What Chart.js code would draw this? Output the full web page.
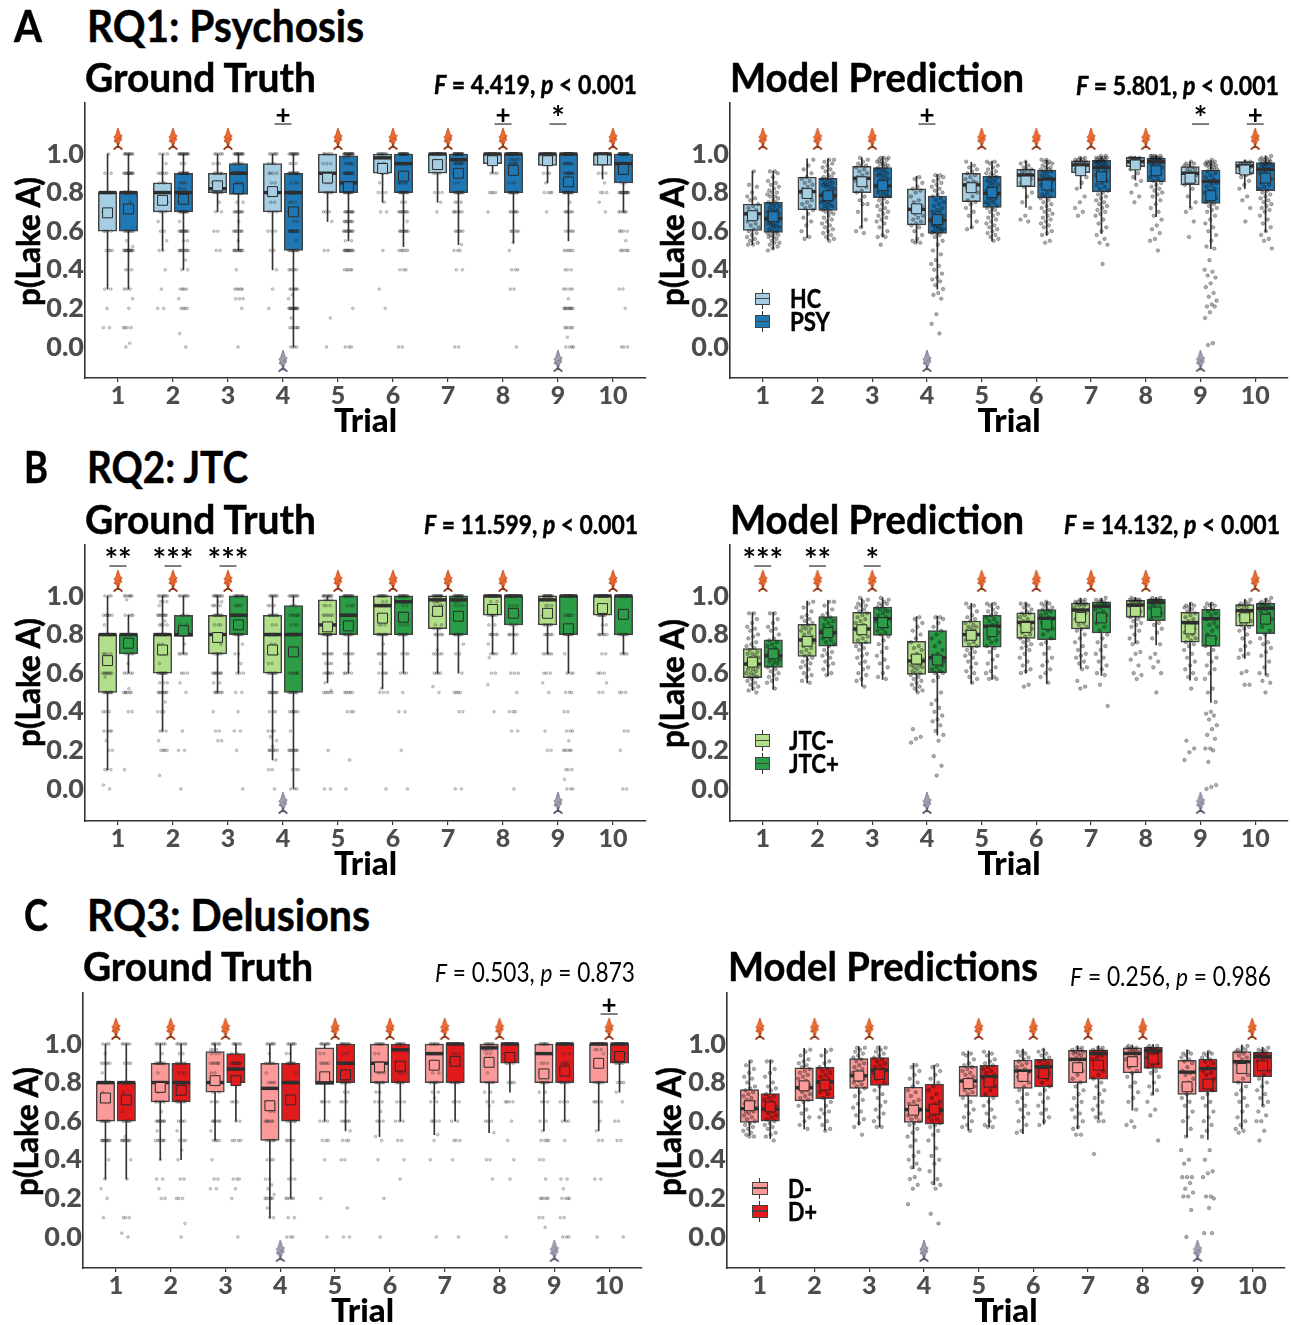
<!DOCTYPE html>
<html><head><meta charset="utf-8">
<script src="https://cdn.jsdelivr.net/npm/chart.js@4"></script>
<style>
html,body{margin:0;padding:0;background:#fff;width:1292px;height:1325px;overflow:hidden;position:relative;font-family:Lato,sans-serif}
canvas{position:absolute}
.t{position:absolute;white-space:nowrap;color:#000;font-weight:700;transform-origin:left center;line-height:1}
.g{position:absolute;box-sizing:border-box}
</style></head><body>
<script>
const trials=[1,2,3,4,5,6,7,8,9,10];
const yTicks=[0,0.2,0.4,0.6,0.8,1.0];
const fishUp=[1,2,3,5,6,7,8,10];
const fishDown=[4,9];
// rows per trial: q1, median, q3, whisker low, whisker high, mean
const gtA_hc=[[.6,.8,.8,.3,1,.695],[.7,.8,.85,.5,1,.76],[.8,.82,.9,.7,1,.835],[.7,.8,.95,.4,1,.805],[.8,.9,1,.65,1,.875],[.9,.98,1,.75,1,.925],[.9,1,1,.75,1,.945],[.95,1,1,.9,1,.965],[.94,1,1,.85,1,.965],[.94,1,1,.87,1,.97]];
const gtA_psy=[[.6,.8,.8,.3,1,.715],[.7,.8,.9,.4,1,.765],[.79,.9,.95,.5,1,.82],[.5,.8,.9,0,1,.7],[.8,.85,.99,.55,1,.83],[.8,.95,1,.52,1,.885],[.8,.97,1,.53,1,.9],[.8,1,1,.54,1,.915],[.8,1,1,.55,1,.855],[.85,.95,1,.7,1,.92]];
const mA_hc=[[.604,.69,.74,.53,.91,.68],[.71,.805,.88,.567,.975,.795],[.8,.874,.936,.62,.98,.856],[.633,.713,.82,.54,.885,.716],[.753,.84,.9,.614,.957,.825],[.83,.891,.92,.723,.963,.86],[.903,.943,.965,.82,.983,.913],[.934,.96,.983,.865,.986,.943],[.84,.9,.934,.723,.96,.874],[.896,.938,.96,.82,.969,.917]];
const mA_psy=[[.593,.666,.75,.507,.91,.675],[.707,.784,.874,.553,.975,.784],[.773,.834,.93,.57,.985,.836],[.588,.657,.782,.3,.894,.66],[.723,.796,.884,.55,.963,.8],[.772,.868,.917,.578,.969,.839],[.804,.93,.967,.588,.986,.882],[.856,.96,.979,.675,.993,.913],[.744,.858,.917,.51,.965,.784],[.81,.92,.955,.597,.99,.875]];
const gtB_low=[[.5,.8,.8,.1,1,.665],[.6,.8,.8,.3,1,.72],[.7,.8,.9,.5,1,.785],[.6,.8,.9,.15,1,.72],[.8,.85,.98,.55,1,.84],[.8,.95,1,.52,1,.885],[.83,.98,1,.6,1,.92],[.9,1,1,.7,1,.93],[.85,.98,1,.7,1,.91],[.9,1,1,.8,1,.935]];
const gtB_high=[[.7,.8,.8,.6,.9,.755],[.79,.8,.9,.7,1,.82],[.8,.9,1,.6,1,.85],[.5,.8,.95,0,1,.71],[.8,.9,1,.6,1,.845],[.8,.97,1,.6,1,.89],[.8,.98,1,.6,1,.895],[.85,1,1,.7,1,.91],[.8,1,1,.6,1,.83],[.8,1,1,.7,1,.905]];
const mB_low=[[.576,.647,.727,.512,.913,.657],[.687,.772,.853,.55,.974,.765],[.754,.829,.915,.533,.986,.825],[.593,.663,.765,.503,.893,.673],[.735,.8,.87,.547,.962,.796],[.78,.863,.913,.6,.965,.837],[.829,.927,.963,.625,.988,.889],[.889,.953,.977,.754,.993,.92],[.76,.862,.915,.564,.965,.829],[.843,.924,.955,.676,.983,.887]];
const mB_high=[[.63,.69,.773,.517,.915,.7],[.74,.81,.893,.586,.976,.81],[.796,.882,.943,.567,.99,.862],[.602,.68,.82,.279,.896,.668],[.735,.843,.9,.567,.965,.815],[.773,.884,.93,.547,.97,.853],[.808,.946,.969,.588,.988,.886],[.872,.967,.983,.746,.993,.917],[.739,.882,.931,.448,.965,.768],[.804,.936,.962,.59,.988,.88]];
const gtC_low=[[.6,.8,.8,.3,1,.72],[.7,.8,.9,.4,1,.775],[.75,.8,.96,.5,1,.81],[.5,.77,.9,.1,1,.68],[.79,.8,.98,.6,1,.83],[.8,.9,1,.52,1,.88],[.8,.95,1,.53,1,.89],[.8,.98,1,.54,1,.905],[.8,.95,1,.55,1,.845],[.8,1,1,.55,1,.9]];
const gtC_high=[[.6,.8,.8,.3,1,.71],[.7,.8,.9,.4,1,.76],[.8,.87,.95,.6,1,.81],[.6,.8,.9,.2,1,.71],[.8,.9,1,.55,1,.84],[.8,.97,1,.6,1,.885],[.8,1,1,.6,1,.91],[.9,1,1,.75,1,.93],[.8,1,1,.6,1,.86],[.9,1,1,.75,1,.935]];
const mC_low=[[.593,.665,.764,.527,.913,.68],[.705,.773,.877,.56,.977,.783],[.77,.835,.924,.58,.986,.834],[.593,.66,.776,.354,.9,.657],[.728,.808,.884,.553,.964,.795],[.77,.86,.917,.535,.974,.832],[.8,.92,.967,.56,.99,.877],[.85,.951,.98,.657,.995,.908],[.738,.854,.915,.518,.969,.778],[.8,.908,.96,.56,.995,.873]];
const mC_high=[[.6,.662,.743,.51,.917,.674],[.717,.804,.879,.553,.977,.787],[.785,.865,.93,.57,.99,.842],[.584,.657,.792,.27,.89,.662],[.726,.83,.889,.57,.965,.802],[.778,.882,.92,.584,.974,.847],[.818,.95,.969,.61,.99,.89],[.873,.965,.983,.738,.998,.922],[.752,.872,.922,.506,.96,.792],[.83,.934,.957,.68,.983,.887]];

// ground-truth responses per trial: value (percent), how many
const ptsGtA_hc=[[100,1,90,2,80,8,70,3,60,4,50,4,30,2,20,1,10,2],[100,3,95,1,90,5,85,3,80,9,75,2,70,3,65,1,60,2,55,1,50,2,40,1,30,1,20,2],[100,5,95,3,90,5,85,4,82,4,80,7,75,1,70,2,60,2,50,2],[100,6,95,3,90,4,85,2,80,6,75,2,70,3,60,3,50,2,40,1,30,1,20,1],[100,6,95,3,90,5,85,2,80,5,70,3,65,1,50,2,15,1,0,1],[100,10,98,3,95,3,90,3,85,1,80,3,75,1,70,2,50,1,30,1,20,1],[100,12,95,3,90,3,80,3,75,1,70,1],[100,14,95,3,90,3,80,4,70,1],[100,14,95,2,90,3,85,1,80,4,70,1],[100,14,95,2,90,3,85,1,80,3,75,1,70,1]];
const ptsGtA_psy=[[100,10,90,12,80,25,75,1,70,5,60,8,55,1,52,1,50,14,40,3,30,3,25,1,20,1,10,4,2,1,0,1],[100,14,95,2,90,14,85,4,82,3,80,22,75,2,70,12,65,1,60,10,55,2,50,9,45,1,40,2,30,4,25,1,20,4,7,1,0,1],[100,14,95,5,90,18,85,3,80,15,75,2,70,8,65,1,60,7,55,1,50,10,40,1,30,5,25,3,20,1,0,1],[100,12,95,3,90,14,85,3,80,22,75,3,70,8,65,2,60,14,55,1,50,10,40,5,30,6,27,1,25,1,20,14,15,1,10,6,0,4],[100,20,98,2,95,6,90,14,85,12,80,12,70,10,65,8,60,10,55,2,50,12,40,5,20,1,0,3],[100,22,95,10,90,8,85,5,80,12,75,2,70,8,65,1,60,8,50,5,40,3,0,2],[100,24,97,8,95,8,90,8,85,2,80,12,75,3,70,6,60,5,53,1,50,3,40,2,0,2],[100,28,97,5,95,6,90,5,85,3,80,12,70,6,60,5,54,1,50,1,40,3,30,2,0,1],[100,25,95,8,90,10,85,3,80,14,75,1,70,6,60,5,50,5,40,3,30,4,25,1,20,10,10,5,5,1,0,4],[100,25,95,10,90,5,85,2,80,14,70,6,60,4,55,1,50,5,30,2,20,1,0,3]];
const ptsGtB_low=[[100,3,90,6,85,1,80,12,70,4,65,1,60,8,58,1,50,10,40,3,30,4,25,1,20,2,10,3,2,1,0,1],[100,7,97,3,95,1,90,8,87,1,85,4,80,14,75,2,70,4,65,1,60,10,55,3,50,8,45,1,40,3,30,3,25,1,20,4,7,1],[100,9,97,2,95,4,90,8,85,3,80,12,75,1,70,6,60,8,55,2,50,6,40,1,30,2,25,2],[100,7,95,3,90,8,85,2,80,14,75,2,70,4,65,2,60,8,50,8,40,3,30,3,27,1,25,1,22,1,20,6,15,1,10,2,0,1],[100,10,98,3,95,3,90,6,85,5,80,10,70,6,65,3,60,6,55,1,51,1,50,5,20,1,0,2],[100,12,97,2,95,8,90,5,85,3,80,9,75,1,70,5,65,1,60,4,52,1,50,3,0,1],[100,14,97,4,95,4,90,3,85,2,83,3,80,5,72,1,70,4,60,4,53,1,50,1],[100,18,97,2,95,3,90,6,85,2,80,6,75,1,70,4,68,1,60,2,54,1,40,1],[100,16,98,3,95,3,90,5,85,5,80,6,70,5,60,3,55,1,50,1,30,1,20,2],[100,18,95,4,90,7,85,2,80,6,70,2,60,3,55,1,50,2]];
const ptsGtB_high=[[100,6,98,1,90,4,80,8,75,1,70,4,65,1,60,4,52,1,50,6,40,2,10,1],[100,7,90,3,85,2,82,2,80,8,75,1,70,5,60,3,55,1,50,1,30,1,20,2,0,1],[100,10,95,4,90,8,80,8,75,1,70,2,65,1,60,3,50,2,40,1,30,2,20,1,0,1],[100,8,95,2,90,6,85,3,80,16,70,4,60,6,50,8,40,6,30,1,20,8,10,3,0,3],[100,14,95,3,90,8,80,8,70,5,65,1,60,4,50,5,40,3,15,1,0,1],[100,14,97,6,95,2,90,3,85,3,80,8,70,3,60,3,50,1,40,2,20,1,0,1],[100,15,97,3,95,3,90,2,80,8,75,1,70,2,60,1,50,4,40,2,0,2],[100,14,95,3,90,4,85,3,80,6,70,2,60,3,50,1,40,3,30,2,0,1],[100,16,90,6,80,8,70,1,60,3,50,3,40,2,30,3,25,1,20,5,10,3,5,1,0,3],[100,16,90,3,80,8,70,4,50,3,30,2,20,1,0,2]];
const ptsGtC_low=[[100,3,95,1,90,5,85,1,80,12,75,1,70,3,60,8,50,10,40,1,30,1,25,1,20,1,10,1],[100,6,95,1,90,8,85,1,80,12,75,1,70,6,65,1,60,8,55,1,50,6,40,1,30,2,25,1,20,2],[100,6,97,3,95,3,90,6,85,2,80,9,75,2,70,3,60,6,55,1,50,4,40,1,30,2,25,2],[100,6,95,1,90,5,85,1,80,4,77,3,70,3,65,2,60,6,50,6,40,3,30,2,27,1,25,1,22,1,20,6,15,1,10,2],[100,7,95,2,90,5,85,1,80,8,70,4,60,3,50,3,40,1,20,1,0,1],[100,8,95,2,90,6,85,3,80,7,75,2,70,3,65,1,60,3,52,1,50,1,40,1,20,1,0,1],[100,8,95,6,90,3,85,2,80,6,75,2,72,1,70,2,60,4,53,1,50,1,40,1,0,1],[100,8,97,4,95,2,90,4,85,1,80,5,75,2,70,2,68,1,60,3,54,1,40,2,30,1],[100,9,95,5,90,3,85,2,80,6,75,2,70,3,60,2,55,1,50,4,40,2,30,1,20,5,10,2,5,1],[100,10,97,3,95,1,90,3,80,6,70,4,60,1,55,1,50,2,30,2,0,1]];
const ptsGtC_high=[[100,5,90,3,80,14,75,1,70,2,65,1,60,6,52,1,50,8,40,1,30,1,10,3,2,1,0,1],[100,6,95,2,90,6,85,3,80,10,75,1,70,7,60,4,55,1,50,3,45,1,40,1,30,2,20,3,7,1,0,1],[100,6,95,2,90,10,87,3,80,6,70,3,60,2,50,4,30,3,25,1,20,1,0,1],[100,6,95,2,90,7,85,1,80,12,70,3,60,6,50,5,40,1,30,3,20,5,10,2,0,3],[100,9,95,2,90,6,85,3,80,7,75,2,70,3,60,5,55,1,50,3,40,2,15,1,0,2],[100,9,97,4,90,3,85,3,80,6,70,3,60,3,50,2,40,1,30,1],[100,12,95,3,90,3,80,7,70,3,60,2,50,3,40,1,0,1],[100,11,95,2,90,4,80,4,70,4,60,1,50,1,40,1,30,1,0,1],[100,11,95,2,90,4,80,6,70,3,60,3,50,1,30,2,25,1,20,4,10,2,0,3],[100,11,95,3,90,5,80,4,75,1,70,1,60,2,50,2,0,1]];

// model predictions per trial (percent)
const ptsMA_hc=[[91,84,83,80,78,77,76,74,73,72,71,70,69,68,68,67,66,65,64,63,62,61,60,59,58,57,56,55,54,53,53],[97,94,92,90,88,87,86,85,84,83,82,81,80,80,79,78,76,75,74,73,72,71,69,67,65,63,60,57,56],[98,97,96,95,94,94,93,92,91,90,89,88,87,87,86,85,84,83,81,80,78,76,74,74,70,66,62,60,59],[88,87,85,83,82,81,80,78,76,75,73,72,71,70,69,68,67,66,65,64,63,62,60,58,56,55,54,54],[96,94,93,92,91,90,89,88,87,86,85,85,84,83,82,81,80,78,76,75,74,72,70,68,65,62,61],[96,95,94,93,92,92,91,90,90,89,89,88,87,86,85,84,83,80,78,75,72,68,66,65],[98,98,97,97,97,96,96,96,95,95,95,94,94,94,93,92,91,90,88,85,82,78,75,72,70,68],[98,98,98,98,97,97,97,97,96,96,96,96,95,95,94,93,92,90,88,86,84,80,78,75],[96,95,95,94,94,93,92,92,91,90,90,89,89,88,87,86,85,84,82,78,75,72,70,65,57],[96,96,95,95,95,94,94,94,93,93,92,92,91,90,89,88,86,84,82,78,76,72,65]];
const ptsMA_psy=[[91,91,90,88,86,85,84,83,82,81,80,80,79,78,78,77,76,75,75,74,73,73,72,71,71,70,70,69,69,68,68,67,67,66,66,65,65,64,64,63,63,62,62,61,60,60,59,59,58,58,57,57,56,55,54,54,53,52,51,50],[97,97,96,95,94,93,92,91,90,89,88,88,87,87,86,85,85,84,84,83,83,82,81,80,80,79,79,78,78,77,77,76,76,75,75,74,73,73,72,71,70,70,69,68,67,66,65,64,63,62,61,60,59,58,57,56,55],[98,98,98,97,97,96,96,95,95,94,94,93,93,92,92,91,90,90,89,89,88,87,87,86,85,85,84,83,83,82,81,80,80,79,78,78,77,76,75,74,73,72,71,70,69,68,67,66,65,64,62,60,58,57,57,53],[89,89,88,87,86,85,84,83,82,81,80,79,78,77,76,75,74,73,72,71,70,70,69,68,67,67,66,66,65,65,64,64,63,63,62,62,61,61,60,60,59,59,58,57,55,53,50,48,45,43,42,40,38,36,35,34,32,30,28,27,25,17,12,7],[96,96,95,94,93,92,91,90,90,89,88,88,87,86,86,85,84,84,83,82,82,81,80,80,79,78,77,77,76,75,75,74,73,72,72,71,70,69,68,67,66,65,64,63,62,61,60,59,58,57,56,55],[97,97,96,96,95,95,94,93,93,92,92,91,91,90,89,88,88,87,87,86,85,85,84,83,82,81,80,79,78,78,77,76,75,74,73,72,71,70,69,68,67,66,65,64,63,62,60,59,58,55,54],[99,99,98,98,98,98,97,97,97,97,96,96,96,95,95,95,94,94,93,93,92,91,90,89,88,87,86,85,84,83,82,81,80,79,78,77,76,75,74,73,72,71,70,69,68,66,64,62,60,58,56,54,53,43],[99,99,99,99,98,98,98,98,98,97,97,97,97,96,96,96,95,95,94,93,92,91,90,89,88,87,86,85,84,83,82,81,80,79,78,76,74,72,70,68,66,63,61,59,56,55,50],[97,96,96,96,95,95,95,94,94,94,93,93,92,92,91,90,89,88,87,86,85,84,83,82,81,80,79,78,77,76,75,74,73,72,71,70,68,66,64,62,60,58,55,52,51,45,40,39,37,36,33,31,28,26,24,22,21,21,18,15,2,1],[99,98,98,97,97,97,96,96,96,95,95,95,94,94,93,93,92,91,90,89,88,87,86,85,84,83,82,81,80,79,78,77,76,75,74,73,72,71,70,68,66,64,62,60,58,56,55,51]];
const ptsMB_low=[[91,91,88,86,84,83,82,80,79,78,76,75,74,73,72,71,70,70,69,68,68,67,66,66,65,65,64,64,63,62,62,61,60,60,59,58,58,57,56,55,54,53,52,51,50],[97,96,94,92,90,89,88,87,86,85,84,83,83,82,81,80,79,78,77,77,76,76,75,74,73,72,71,70,69,68,67,66,65,64,63,62,60,59,58,56,55],[99,98,97,96,95,95,94,93,92,91,90,89,88,87,86,85,84,83,83,82,81,80,79,78,77,76,75,74,73,72,70,69,68,66,65,63,62,60,59,57,56,53],[89,88,86,84,82,80,78,76,74,73,72,70,69,68,67,67,66,66,65,65,64,64,63,63,62,61,60,60,59,58,57,56,55,54,53,52,51,50,31,27,26,24],[96,95,94,92,90,89,88,87,86,85,84,84,83,82,82,81,80,80,79,78,78,77,76,75,74,73,72,71,70,69,68,66,65,63,61,60,58,57,55],[96,96,95,94,93,92,91,91,90,89,88,87,86,86,85,85,84,83,82,81,80,79,78,77,76,75,74,73,72,70,68,66,64,62,61,60,54,53],[98,98,97,97,97,96,96,96,95,95,94,93,92,91,90,88,86,85,84,83,82,80,78,76,74,72,70,69,68,66,65,63,62,56,53,52],[99,98,98,98,98,97,97,97,96,96,95,95,94,93,92,90,89,88,87,86,85,84,82,80,78,76,75,71,70,67,64,60,59,57],[96,95,95,94,94,93,92,91,90,89,88,87,86,85,84,83,82,81,80,79,78,77,76,75,74,72,70,68,66,64,62,60,58,57,52,25,21,19,15],[98,97,96,96,95,95,94,93,92,91,90,89,88,87,86,85,84,83,82,80,78,76,74,72,70,69,68,61,60,54,54]];
const ptsMB_high=[[91,91,88,86,84,83,82,80,78,77,76,75,74,73,72,71,70,70,69,68,67,66,66,65,64,63,62,61,60,59,58,57,56,55,52],[97,97,95,93,91,90,89,88,87,86,85,84,83,82,81,81,80,79,78,77,76,75,74,72,71,70,69,68,66,65,64,62,60,59],[99,98,97,96,96,95,94,93,93,92,91,90,89,88,87,86,85,84,83,82,81,80,79,77,75,73,71,69,67,65,63,60,58,57],[89,89,88,86,84,82,80,78,76,74,72,70,69,68,67,66,66,65,64,63,62,61,60,60,58,56,50,46,44,42,40,38,36,35,33,30,28,25,17,12,7],[96,96,95,94,93,92,91,90,89,88,87,86,85,84,83,82,81,80,78,77,76,74,73,71,69,67,65,63,61,60,58,57,57],[97,96,96,95,94,93,93,92,91,90,89,88,88,87,86,85,84,83,82,80,78,76,75,73,70,68,66,64,62,60,58,55],[99,98,98,97,97,96,96,95,95,94,93,92,91,90,88,86,84,82,80,78,76,74,72,70,68,66,64,62,60,59,54,43],[99,99,98,98,98,97,97,97,96,96,95,94,93,92,91,90,88,86,85,83,81,78,75,70,68,66,63,60,50],[96,96,95,95,94,93,92,91,90,88,86,85,84,82,80,78,76,74,72,70,68,66,64,62,60,57,52,50,45,40,39,38,36,33,31,28,26,21,21,20,14,2,1,0],[99,98,97,97,96,96,95,95,94,93,92,91,90,88,86,84,82,80,78,76,75,73,71,69,66,63,60,59,56,55,50]];
const ptsMC_low=[[91,89,87,85,83,82,80,78,77,76,75,74,73,72,71,70,70,69,68,67,67,66,65,65,64,63,62,61,60,59,58,57,56,55,54,53,52,52],[97,96,94,92,91,90,89,88,87,86,85,84,83,82,81,80,79,78,77,76,75,74,73,72,71,70,68,66,64,62,60,58,56],[98,98,97,96,95,94,93,92,91,90,89,88,87,86,85,84,83,82,81,80,79,78,77,75,73,71,69,67,65,63,61,59,57,53],[89,88,86,84,82,80,78,76,75,73,71,70,69,68,67,66,66,65,65,64,63,62,61,60,59,58,56,54,52,50,47,44,42,40,38,36,35,31,30,27,25,17],[95,95,94,92,90,89,88,87,86,85,84,83,82,81,80,79,78,77,76,75,74,72,70,68,66,64,62,60,58,57,55],[96,96,95,94,93,92,91,90,89,88,87,86,85,84,83,82,81,80,78,76,74,72,70,68,66,64,62,60,58,55,54],[98,98,97,97,96,96,95,95,94,93,92,90,88,86,84,82,80,78,76,74,72,70,68,66,64,62,60,57,56,53,53],[99,98,98,98,97,97,96,96,95,94,93,92,90,88,86,85,83,80,78,75,72,70,66,60,58,57],[96,95,95,94,93,92,91,90,88,86,85,84,82,80,78,76,74,72,70,68,65,62,60,56,52,45,40,38,31,31,31,28,25,23,21,21,14,0],[99,98,97,97,96,96,95,94,93,92,90,88,86,84,82,80,78,76,74,72,70,68,65,62,60,58,56,55,54]];
const ptsMC_high=[[91,91,87,85,83,80,78,77,76,74,73,72,71,70,69,68,67,66,65,64,63,62,61,60,59,58,57,56,54,53,52,50],[97,96,94,91,90,88,87,86,85,84,83,82,81,80,79,78,77,76,75,74,72,70,68,66,65,64,62,60,58,56,55],[98,98,97,96,95,94,93,92,91,90,89,88,87,86,85,84,82,80,78,76,74,72,70,68,66,64,62,60,57,57],[89,88,86,84,82,80,78,76,74,72,70,69,68,67,66,66,65,65,64,63,62,61,60,59,58,57,55,53,50,46,42,40,38,34,30,28,27,25,12,7],[96,95,94,92,91,90,89,88,87,86,85,84,83,82,81,80,78,76,74,72,70,68,66,64,62,60,58,57,57],[97,96,95,94,93,92,91,90,89,88,87,86,85,84,83,82,80,78,76,74,72,70,68,66,64,62,60,58],[98,98,97,97,96,96,95,95,94,93,92,90,88,86,84,82,80,78,76,74,72,70,68,66,64,62,60,60,43],[99,99,98,98,97,97,96,96,95,95,94,93,92,91,90,89,88,86,85,83,80,78,76,74,70,66,63,50],[96,95,95,94,93,92,91,90,88,86,85,84,82,80,78,76,74,72,70,68,65,62,60,58,55,52,45,40,34,33,31,21,21,20,15,2,2],[98,97,97,96,96,95,95,94,93,92,91,90,88,86,84,82,80,78,76,74,72,70,68,65,63,60,60,55,50]];

const fromPairs=flat=>{const o=[];for(let i=0;i<flat.length;i+=2)for(let n=0;n<flat[i+1];n++)o.push(flat[i]);return o;};

function fish(body,edge,tail){
  const c=document.createElement('canvas');c.width=12;c.height=22;const g=c.getContext('2d');
  g.fillStyle=body;g.strokeStyle=edge;g.lineWidth=.7;g.beginPath();
  g.moveTo(6,0);g.lineTo(7.4,4);g.lineTo(8.2,6.5);g.lineTo(10.4,8);g.lineTo(8.8,9.4);g.lineTo(9.8,12);g.lineTo(8,12.8);g.lineTo(7.6,15);g.lineTo(6.6,17);g.lineTo(5.4,17);g.lineTo(4.4,14.6);g.lineTo(2,13.4);g.lineTo(3.4,11);g.lineTo(1.8,9);g.lineTo(3.8,7);g.lineTo(4.6,4);g.closePath();g.fill();g.stroke();
  g.strokeStyle=tail;g.lineWidth=1.7;g.lineCap='round';g.beginPath();g.moveTo(6,16);g.lineTo(6,18);g.lineTo(2.2,21);g.moveTo(6,18);g.lineTo(9.8,21);g.stroke();
  g.lineWidth=.8;g.strokeStyle=edge;g.beginPath();g.moveTo(8.6,9.5);g.lineTo(6,11);g.moveTo(3.4,12.5);g.lineTo(6,14);g.stroke();
  return c;
}
const fishOrange=fish('#ee6a30','#b8431a','#8f3413');
const fishGray=fish('#a09eb3','#6d6b80','#55546a');

const OFF=0.19;
function groupSets(stats,points,colour,off,span,dot){
  const at=i=>trials[i]+off;
  const pts=[];
  points.forEach((list,i)=>list.forEach((v,k)=>{const f=((k+1)*0.618034+i*0.37)%1;pts.push({x:at(i)+(f-.5)*2*span,y:v/100});}));
  return [
    {type:'bar',order:6,data:stats.map((r,i)=>({x:at(i),y:[r[3],r[4]]})),backgroundColor:'#333',barThickness:1,maxBarThickness:1,grouped:false,borderWidth:0},
    {type:'bar',order:5,data:stats.map((r,i)=>({x:at(i),y:[r[0],r[2]]})),backgroundColor:colour,borderColor:'#444',borderWidth:1.5,borderSkipped:false,barThickness:18.5,maxBarThickness:18.5,grouped:false},
    {type:'scatter',order:4,data:pts,pointRadius:dot.r,pointBackgroundColor:dot.fill,pointBorderColor:dot.line,pointBorderWidth:dot.w},
    {type:'scatter',order:3,data:stats.map((r,i)=>({x:at(i),y:r[1]})),pointStyle:'line',pointRadius:9,pointBorderColor:'#2e2e2e',pointBorderWidth:3.4},
    {type:'scatter',order:2,data:stats.map((r,i)=>({x:at(i),y:r[5]})),pointStyle:'rect',pointRadius:7,pointBackgroundColor:colour,pointBorderColor:'#2a2a2a',pointBorderWidth:1}
  ];
}
const dotGT={r:1.4,fill:'rgba(70,70,70,.22)',line:'rgba(20,20,20,.36)',w:.6};
const dotM={r:1.8,fill:'rgba(30,30,30,.36)',line:'rgba(0,0,0,.42)',w:.6};

const sigPlugin={id:'sig',afterDatasetsDraw(ch,a,o){
  const c=ch.ctx,X=ch.scales.x,Y=ch.scales.y;
  (o.trials||[]).forEach((t,i)=>{
    const px=X.getPixelForValue(t),py=Y.getPixelForValue(1.155);
    c.save();c.strokeStyle='#555';c.lineWidth=1.5;c.beginPath();c.moveTo(px-8.5,py);c.lineTo(px+8.5,py);c.stroke();
    c.fillStyle='#000';c.textAlign='center';c.textBaseline='middle';
    const s=o.labels[i];
    c.font=(s==='+'?'700 26px':'700 32px')+' Lato, sans-serif';
    c.fillText(s,px,py+(s==='+'?-8:-4));
    c.restore();
  });
}};

function panel(p){
  const cv=document.createElement('canvas');
  cv.style.left=p.left+'px';cv.style.top=(p.top-8)+'px';cv.width=p.w;cv.height=p.bottom-p.top+8+63;
  cv.style.width=p.w+'px';cv.style.height=cv.height+'px';document.body.appendChild(cv);
  const datasets=[...groupSets(p.a,p.pa,p.ca,-OFF,p.span,p.dot),...groupSets(p.b,p.pb,p.cb,OFF,p.span,p.dot),
    {type:'scatter',order:1,data:fishUp.map(t=>({x:t,y:1.078})),pointStyle:fishOrange},
    {type:'scatter',order:1,data:fishDown.map(t=>({x:t,y:-0.073})),pointStyle:fishGray}];
  const noPad=s=>{s.paddingTop=0;s.paddingBottom=0;s.paddingLeft=0;s.paddingRight=0;};
  new Chart(cv,{data:{datasets},plugins:[sigPlugin],options:{
    responsive:false,animation:false,events:[],
    layout:{autoPadding:false,padding:{top:8,right:2,left:0,bottom:0}},
    plugins:{legend:{display:false},tooltip:{enabled:false},sig:{trials:p.sigT,labels:p.sigL}},
    scales:{
      x:{type:'linear',min:.4,max:10.6,offset:false,
        afterBuildTicks:s=>{s.ticks=trials.map(v=>({value:v}));},
        afterFit:s=>{s.height=63;noPad(s);},
        grid:{offset:false,drawOnChartArea:false,drawTicks:true,tickLength:4,color:'#333',lineWidth:1.2},
        border:{display:true,color:'#333',width:1.6},
        ticks:{autoSkip:false,maxRotation:0,color:'#4d4d4d',font:{family:'Lato',weight:'900',size:25},padding:-1,callback:v=>String(v)},
        title:{display:true,text:'Trial',color:'#000',font:{family:'Lato',weight:'900',size:33},padding:{top:0,bottom:0}}},
      y:{type:'linear',min:p.ymin,max:1.264,
        afterBuildTicks:s=>{s.ticks=yTicks.map(v=>({value:v}));},
        afterFit:s=>{s.width=p.axisX;noPad(s);},
        grid:{drawOnChartArea:false,drawTicks:false},
        border:{display:true,color:'#333',width:1.6},
        ticks:{autoSkip:false,color:'#4d4d4d',font:{family:'Lato',weight:'900',size:27},padding:1,callback:v=>Number(v).toFixed(1)}}
    }}});
}
const cols={A:['#a6cee3','#1f78b4'],B:['#b2df8a','#2a9d46'],C:['#fb9a99','#e31a1c']};
panel({left:0,w:648,axisX:85,top:103,bottom:378,ymin:-.1606,a:gtA_hc,b:gtA_psy,pa:ptsGtA_hc.map(fromPairs),pb:ptsGtA_psy.map(fromPairs),ca:cols.A[0],cb:cols.A[1],span:.09,dot:dotGT,sigT:[4,8,9],sigL:['+','+','*']});
panel({left:645,w:645,axisX:85,top:103,bottom:378,ymin:-.1606,a:mA_hc,b:mA_psy,pa:ptsMA_hc,pb:ptsMA_psy,ca:cols.A[0],cb:cols.A[1],span:.115,dot:dotM,sigT:[4,9,10],sigL:['+','*','+']});
panel({left:0,w:648,axisX:85,top:545,bottom:821,ymin:-.166,a:gtB_low,b:gtB_high,pa:ptsGtB_low.map(fromPairs),pb:ptsGtB_high.map(fromPairs),ca:cols.B[0],cb:cols.B[1],span:.09,dot:dotGT,sigT:[1,2,3],sigL:['**','***','***']});
panel({left:645,w:645,axisX:85,top:545,bottom:821,ymin:-.166,a:mB_low,b:mB_high,pa:ptsMB_low,pb:ptsMB_high,ca:cols.B[0],cb:cols.B[1],span:.115,dot:dotM,sigT:[1,2,3],sigL:['***','**','*']});
panel({left:0,w:644,axisX:83,top:993,bottom:1268,ymin:-.1606,a:gtC_low,b:gtC_high,pa:ptsGtC_low.map(fromPairs),pb:ptsGtC_high.map(fromPairs),ca:cols.C[0],cb:cols.C[1],span:.09,dot:dotGT,sigT:[10],sigL:['+']});
panel({left:642,w:645,axisX:85,top:993,bottom:1268,ymin:-.1606,a:mC_low,b:mC_high,pa:ptsMC_low,pb:ptsMC_high,ca:cols.C[0],cb:cols.C[1],span:.115,dot:dotM,sigT:[],sigL:[]});

// text: html, left, centre y, font size, target width, weight
function text(html,x,y,size,w,weight){
  const d=document.createElement('div');d.className='t';d.innerHTML=html;
  d.style.left=x+'px';d.style.top=(y-size/2-1)+'px';d.style.fontSize=size+'px';d.style.fontWeight=weight||700;
  if(!weight)d.style.webkitTextStroke='.45px #000';
  document.body.appendChild(d);
  const m=d.getBoundingClientRect().width;
  if(w)d.style.transform='scaleX('+(w/m)+')';
}
// rotated axis title: centre x, centre y, length along the axis
function yTitle(cx,cy,len){
  const d=document.createElement('div');d.className='t';d.textContent='p(Lake A)';
  d.style.fontSize='33px';d.style.webkitTextStroke='.6px #000';d.style.transformOrigin='center center';
  document.body.appendChild(d);
  const r=d.getBoundingClientRect();
  d.style.left=(cx-r.width/2)+'px';d.style.top=(cy-r.height/2)+'px';
  d.style.transform='rotate(-90deg) scaleX('+(len/r.width)+')';
}
[[27,241],[671,241],[27,682],[671,683],[25,1131],[668,1131]].forEach(a=>yTitle(a[0],a[1],129));
const stat=(F,op,p)=>'<i>F</i> = '+F+', <i>p</i> '+op+' '+p;
text('A',14,26,44,28);text('RQ1: Psychosis',87,26,43,277);
text('Ground Truth',85,78,40,231);text('Model Prediction',730,78,40,294);
text(stat('4.419','&lt;','0.001'),434,85,26,203);text(stat('5.801','&lt;','0.001'),1076,86,26,203);
text('B',24,467,44,24);text('RQ2: JTC',87,467,43,161);
text('Ground Truth',85,520,40,231);text('Model Prediction',730,520,40,294);
text(stat('11.599','&lt;','0.001'),424,525,26,214);text(stat('14.132','&lt;','0.001'),1064,525,26,216);
text('C',24,915,44,24);text('RQ3: Delusions',87,915,43,283);
text('Ground Truth',83,967,40,230);text('Model Predictions',728,967,40,310);
text(stat('0.503','=','0.873'),435,973,26,200,400);text(stat('0.256','=','0.986'),1070,977,26,201,400);

function key(x,yc,colour,label,tx,tw){
  const mk=(l,t,w,h,bg,b)=>{const e=document.createElement('div');e.className='g';e.style.cssText+='left:'+l+'px;top:'+t+'px;width:'+w+'px;height:'+h+'px;background:'+bg+';'+(b?'border:1.4px solid #444;':'');document.body.appendChild(e);};
  mk(x+7,yc-10,1.3,20,'#333');
  mk(x,yc-6,15.5,12.5,colour,true);
  mk(x,yc-.6,15.5,1.3,'#444');
  mk(x+7,yc-10,1.3,4,'#333');mk(x+7,yc+6.5,1.3,4,'#333');
  text(label,tx,yc,27,tw);
}
key(754.5,298.8,cols.A[0],'HC',790,31);key(754.5,321.2,cols.A[1],'PSY',790,40);
key(754.5,740.2,cols.B[0],'JTC-',789,45);key(754.5,763.2,cols.B[1],'JTC+',789,50);
key(752,1188,cols.C[0],'D-',788,24);key(752,1211,cols.C[1],'D+',788,29);
</script>
</body></html>
